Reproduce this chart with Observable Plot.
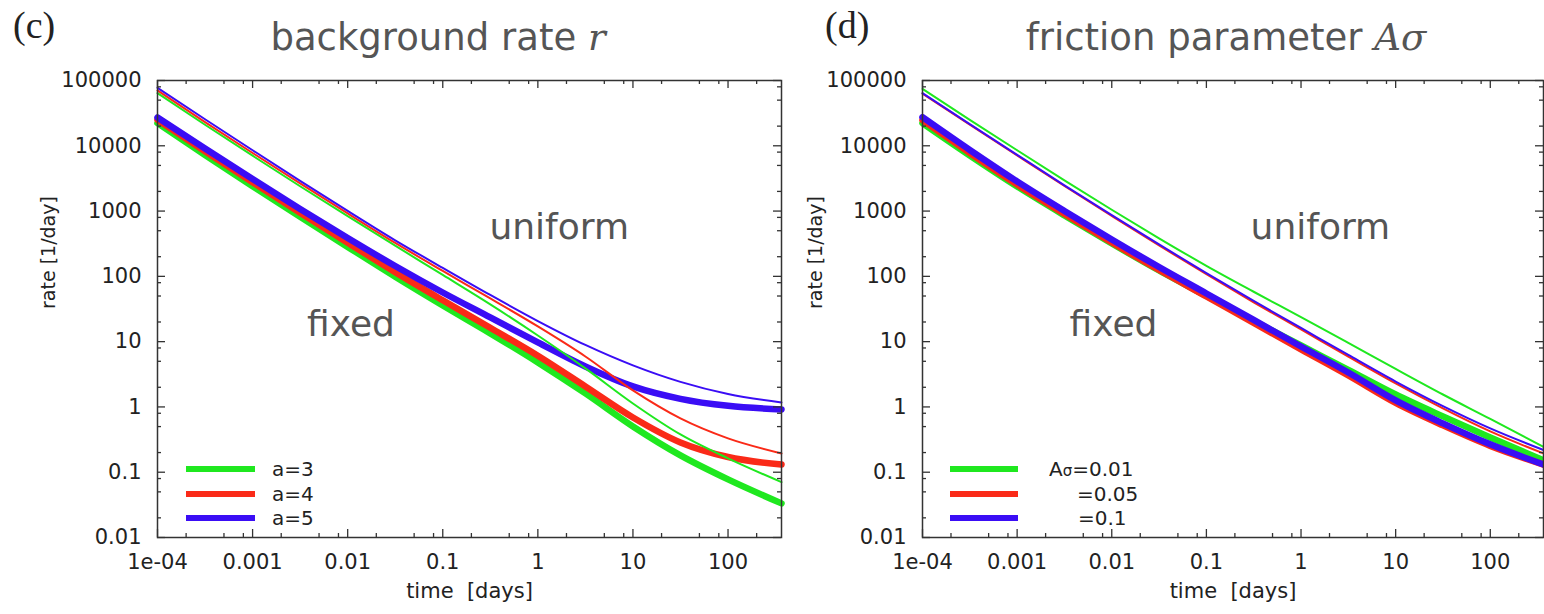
<!DOCTYPE html>
<html><head><meta charset="utf-8">
<script src="https://cdn.jsdelivr.net/npm/d3@7"></script>
<script src="https://cdn.jsdelivr.net/npm/@observablehq/plot@0.6"></script>
<style>
html,body{margin:0;padding:0;background:#fff;overflow:hidden;}
#wrap{position:relative;width:1544px;height:614px;font-family:"DejaVu Sans",sans-serif;}
.panel{position:absolute;top:0;}
.overlay{position:absolute;left:0;top:0;pointer-events:none;}
.legend{position:absolute;font-family:"DejaVu Sans",sans-serif;font-size:20px;color:#222;}
.legend .row{height:24.5px;display:flex;align-items:center;white-space:pre;}
.legend .bar{display:inline-block;height:6px;}
</style></head><body><div id="wrap"></div>
<script>
// time points (days)
const TIME = [0.0001, 0.000316, 0.001, 0.00316, 0.01, 0.0316, 0.1, 0.316, 1, 3.16, 10, 31.6, 100, 365];

// panel (c): background rate r — thick = fixed, thin = uniform
const C_FIXED_A3 = [22200, 7230, 2400, 818, 282, 98.6, 35.8, 13.4, 4.81, 1.61, 0.502, 0.181, 0.0776, 0.0333];
const C_FIXED_A4 = [25000, 8240, 2760, 942, 328, 116, 43.0, 16.3, 6.08, 2.06, 0.690, 0.286, 0.171, 0.131];
const C_FIXED_A5 = [27100, 9100, 3100, 1077, 387, 144, 56.6, 23.5, 9.73, 4.17, 2.06, 1.33, 1.04, 0.916];
const C_UNIF_A3  = [64000, 21000, 7050, 2400, 835, 295, 105, 37.2, 12.4, 3.89, 1.13, 0.379, 0.163, 0.0705];
const C_UNIF_A4  = [70300, 23100, 7760, 2650, 919, 325, 121, 45.9, 17.1, 5.93, 1.79, 0.667, 0.330, 0.194];
const C_UNIF_A5  = [77300, 25500, 8540, 2910, 1007, 357, 135, 51.9, 20.7, 8.90, 4.33, 2.42, 1.58, 1.17];

// panel (d): friction parameter Aσ
const D_FIXED_001 = [22200, 7100, 2380, 857, 319, 123, 50.1, 20.8, 8.75, 3.69, 1.55, 0.716, 0.341, 0.152];
const D_FIXED_005 = [24700, 7760, 2550, 904, 330, 125, 49.2, 19.3, 7.60, 3.03, 1.15, 0.521, 0.253, 0.131];
const D_FIXED_01  = [27400, 8630, 2840, 1004, 367, 139, 54.7, 21.5, 8.43, 3.37, 1.26, 0.559, 0.267, 0.131];
const D_UNIF_001  = [74600, 25000, 8540, 2960, 1047, 383, 145, 58.1, 23.7, 9.55, 3.82, 1.55, 0.655, 0.244];
const D_UNIF_005  = [62600, 21000, 7100, 2420, 841, 297, 108, 40.1, 15.4, 5.89, 2.29, 0.949, 0.421, 0.194];
const D_UNIF_01   = [64000, 21500, 7280, 2480, 865, 308, 112, 42.0, 16.2, 6.25, 2.45, 1.03, 0.469, 0.219];

// ticks
const X_MAJOR = [1e-4, 1e-3, 1e-2, 0.1, 1, 10, 100];
const X_LABELS = ["1e-04", "0.001", "0.01", "0.1", "1", "10", "100"];
const X_MINOR = [2e-4,5e-4,8e-4,2e-3,5e-3,8e-3,0.02,0.05,0.08,0.2,0.5,0.8,2,5,8,20,50,80,200];
const Y_MAJOR = [0.01, 0.1, 1, 10, 100, 1000, 10000, 100000];
const Y_LABELS = ["0.01", "0.1", "1", "10", "100", "1000", "10000", "100000"];
const Y_MINOR = [0.02,0.05,0.08,0.2,0.5,0.8,2,5,8,20,50,80,200,500,800,2000,5000,8000,20000,50000,80000];

// annotations
const NOTE_LABELS = ["uniform", "fixed"];
const C_NOTE_T = [0.31, 0.00374];
const C_NOTE_R = [380, 12.0];
const D_NOTE_T = [0.293, 0.00358];
const D_NOTE_R = [380, 12.0];

// legends
const C_LEGEND = ["a=3", "a=4", "a=5"];
const D_LEGEND = ["Aσ=0.01", "=0.05", "=0.1"];

const GREEN = "#1fe81f", RED = "#fa2a18", BLUE = "#3a0df5";
const COLORS = [GREEN, RED, BLUE];

const HEIGHT = 614, MT = 80, MB = 77;

function makePanel({left, width, marginLeft, marginRight, fixed, unif, notesT, notesR, yTitleDx}) {
  const H = HEIGHT - MT - MB;
  const W = width - marginLeft - marginRight;
  const toRows = (vals) => TIME.map((t, i) => ({t, r: vals[i]}));
  const tickStyle = {stroke: "#333", strokeWidth: 1.3};
  const marks = [];
  fixed.forEach((vals, k) => marks.push(Plot.line(toRows(vals), {x: "t", y: "r", stroke: COLORS[k], strokeWidth: 6.5, curve: "monotone-x"})));
  unif.forEach((vals, k) => marks.push(Plot.line(toRows(vals), {x: "t", y: "r", stroke: COLORS[k], strokeWidth: 2, curve: "monotone-x"})));
  marks.push(
    Plot.ruleX(X_MAJOR, {...tickStyle, insetTop: H - 8}),
    Plot.ruleX(X_MAJOR, {...tickStyle, insetBottom: H - 8}),
    Plot.ruleX(X_MINOR, {...tickStyle, insetTop: H - 4}),
    Plot.ruleX(X_MINOR, {...tickStyle, insetBottom: H - 4}),
    Plot.ruleY(Y_MAJOR, {...tickStyle, insetRight: W - 8}),
    Plot.ruleY(Y_MAJOR, {...tickStyle, insetLeft: W - 8}),
    Plot.ruleY(Y_MINOR, {...tickStyle, insetRight: W - 4}),
    Plot.ruleY(Y_MINOR, {...tickStyle, insetLeft: W - 4}),
    Plot.frame({stroke: "#333", strokeWidth: 1.5}),
    Plot.axisX(X_MAJOR, {tickSize: 0, tickPadding: 17, tickFormat: d => X_LABELS[X_MAJOR.indexOf(d)], label: null}),
    Plot.axisY(Y_MAJOR, {tickSize: 0, tickPadding: 16, tickFormat: d => Y_LABELS[Y_MAJOR.indexOf(d)], label: null}),
    Plot.text(NOTE_LABELS, {x: (d, i) => notesT[i], y: (d, i) => notesR[i], text: d => d, textAnchor: "start", lineAnchor: "bottom", fontSize: 36, fill: "#555"}),
    Plot.text(["time\u00a0 [days]"], {frameAnchor: "bottom", dy: 60, fontSize: 21, fill: "#222"}),
    Plot.text(["rate [1/day]"], {frameAnchor: "left", dx: yTitleDx, rotate: -90, fontSize: 19, fill: "#222"})
  );
  const svg = Plot.plot({
    width, height: HEIGHT, marginLeft, marginRight, marginTop: MT, marginBottom: MB,
    x: {type: "log", domain: [1e-4, 365], label: null},
    y: {type: "log", domain: [0.01, 100000], label: null},
    style: {fontFamily: "DejaVu Sans, sans-serif", fontSize: "21px", color: "#222", background: "transparent", overflow: "visible"},
    marks
  });
  svg.classList.add("panel");
  svg.style.left = left + "px";
  svg.style.position = "absolute";
  return svg;
}

const wrap = document.getElementById("wrap");
wrap.appendChild(makePanel({left: 0, width: 800, marginLeft: 157, marginRight: 19,
  fixed: [C_FIXED_A3, C_FIXED_A4, C_FIXED_A5], unif: [C_UNIF_A3, C_UNIF_A4, C_UNIF_A5],
  notesT: C_NOTE_T, notesR: C_NOTE_R, yTitleDx: -109}));
wrap.appendChild(makePanel({left: 772, width: 772, marginLeft: 150, marginRight: 1,
  fixed: [D_FIXED_001, D_FIXED_005, D_FIXED_01], unif: [D_UNIF_001, D_UNIF_005, D_UNIF_01],
  notesT: D_NOTE_T, notesR: D_NOTE_R, yTitleDx: -107}));

// legends
function legend(left, top, barW, labels, gaps) {
  const div = document.createElement("div");
  div.className = "legend";
  div.style.left = left + "px";
  div.style.top = top + "px";
  labels.forEach((lab, i) => {
    const row = document.createElement("div");
    row.className = "row";
    const bar = document.createElement("span");
    bar.className = "bar";
    bar.style.width = barW + "px";
    bar.style.background = COLORS[i];
    const txt = document.createElement("span");
    txt.style.marginLeft = gaps[i] + "px";
    if (lab.startsWith("Aσ")) {
      txt.innerHTML = 'A<span style="font-size:15px">σ</span>' + lab.slice(2);
    } else txt.textContent = lab;
    row.appendChild(bar); row.appendChild(txt);
    div.appendChild(row);
  });
  wrap.appendChild(div);
}
legend(186, 457, 69, C_LEGEND, [17, 17, 17]);
legend(950, 457, 68, D_LEGEND, [31, 59, 60]);

// titles
const ov = d3.select(wrap).append("svg").attr("class", "overlay").attr("width", 1544).attr("height", 614);
ov.append("text").attr("x", 13).attr("y", 38).attr("font-family", "Liberation Serif, serif").attr("font-size", 38).attr("fill", "#222").text("(c)");
ov.append("text").attr("x", 825).attr("y", 38).attr("font-family", "Liberation Serif, serif").attr("font-size", 38).attr("fill", "#222").text("(d)");
const t1 = ov.append("text").attr("x", 438).attr("y", 50).attr("text-anchor", "middle").attr("font-family", "DejaVu Sans, sans-serif").attr("font-size", 37).attr("fill", "#555");
t1.append("tspan").text("background rate ");
t1.append("tspan").attr("font-family", "DejaVu Serif, serif").attr("font-style", "italic").text("r");
const t2 = ov.append("text").attr("x", 1226).attr("y", 50).attr("text-anchor", "middle").attr("font-family", "DejaVu Sans, sans-serif").attr("font-size", 37).attr("fill", "#555");
t2.append("tspan").text("friction parameter ");
t2.append("tspan").attr("font-family", "DejaVu Serif, serif").attr("font-style", "italic").text("Aσ");
</script>
</body></html>
